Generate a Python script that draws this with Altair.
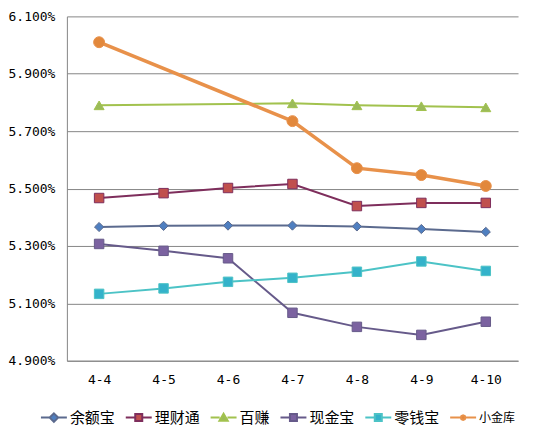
import altair as alt
import pandas as pd

dates = ["4-4", "4-5", "4-6", "4-7", "4-8", "4-9", "4-10"]
series = ["余额宝", "理财通", "百赚", "现金宝", "零钱宝", "小金库"]

yuebao = [5.366, 5.370, 5.371, 5.371, 5.368, 5.359, 5.349]
licaitong = [5.467, 5.484, 5.502, 5.516, 5.439, 5.450, 5.450]
baizhuan = [5.790, None, None, 5.797, 5.790, 5.787, 5.783]
xianjinbao = [5.307, 5.283, 5.257, 5.067, 5.018, 4.990, 5.036]
lingqianbao = [5.133, 5.152, 5.175, 5.189, 5.210, 5.246, 5.213]
xiaojinku = [6.010, None, None, 5.735, 5.571, 5.547, 5.509]

y_ticks = [4.9, 5.1, 5.3, 5.5, 5.7, 5.9, 6.1]

line_colors = ["#5B6A8E", "#7E2E5C", "#A2C24E", "#665A8A", "#4CC3C6", "#E8914A"]
marker_colors = ["#4F7FC0", "#C0504D", "#9BBB59", "#7B62A0", "#34B2CA", "#E2883C"]
legend_paths = [
    "M-1,0H-0.33M0.33,0H1M0,-0.33L0.33,0L0,0.33L-0.33,0Z",
    "M-1,0H-0.27M0.27,0H1M-0.27,-0.27H0.27V0.27H-0.27Z",
    "M-1,0H-0.3M0.3,0H1M0,-0.3L0.32,0.25H-0.32Z",
    "M-1,0H-0.27M0.27,0H1M-0.27,-0.27H0.27V0.27H-0.27Z",
    "M-1,0H-0.27M0.27,0H1M-0.27,-0.27H0.27V0.27H-0.27Z",
    "M-1,0H-0.18M0.18,0H1M0.18,0L0.13,0.13L0,0.18L-0.13,0.13L-0.18,0L-0.13,-0.13L0,-0.18L0.13,-0.13Z",
]
marker_groups = [
    ("diamond", ["余额宝"], 85),
    ("square", ["理财通", "现金宝", "零钱宝"], 90),
    ("triangle-up", ["百赚"], 100),
    ("circle", ["小金库"], 120),
]
thick_series = ["小金库"]

rows = []
for name, vals in zip(series, [yuebao, licaitong, baizhuan, xianjinbao, lingqianbao, xiaojinku]):
    for i, (d, v) in enumerate(zip(dates, vals)):
        if v is not None:
            rows.append({"date": d, "idx": i, "series": name, "rate": v})
df = pd.DataFrame(rows)

legend = alt.Legend(
    orient="none", legendX=-27, legendY=388, direction="horizontal", title=None,
    symbolSize=676, symbolStrokeWidth=2, labelFont="Noto Sans CJK SC",
    labelFontSize=alt.ExprRef("datum.value == '小金库' ? 12 : 15"),
    labelColor="#000000", labelOffset=2, columnPadding=6, gridAlign="none",
    padding=0, symbolOpacity=1,
)

stroke_scale = alt.Scale(domain=series, range=line_colors)
fill_scale = alt.Scale(domain=series, range=marker_colors)

x = alt.X(
    "date:N", sort=dates, scale=alt.Scale(type="point", padding=0.5),
    axis=alt.Axis(title=None, labelAngle=0, ticks=False, grid=False,
                  domainColor="#868686", labelFont="DejaVu Sans Mono",
                  labelFontSize=13, labelColor="#000000", labelPadding=13),
)
y = alt.Y(
    "rate:Q", scale=alt.Scale(domain=[4.9, 6.1], nice=False, zero=False),
    axis=alt.Axis(title=None, values=y_ticks, labelExpr="format(datum.value, '.3f') + '%'",
                  grid=True, gridColor="#868686", gridWidth=1, ticks=False,
                  domainColor="#868686", labelFont="DejaVu Sans Mono",
                  labelFontSize=13, labelColor="#000000", labelPadding=12),
)

base = alt.Chart(df)

thin_lines = base.transform_filter(
    alt.FieldOneOfPredicate(field="series", oneOf=[s for s in series if s not in thick_series])
).mark_line(strokeWidth=2).encode(
    x=x, y=y,
    stroke=alt.Stroke("series:N", scale=stroke_scale, legend=legend),
    order=alt.Order("idx:Q"),
)
thick_lines = base.transform_filter(
    alt.FieldOneOfPredicate(field="series", oneOf=thick_series)
).mark_line(strokeWidth=3.5).encode(
    x=x, y=y,
    stroke=alt.Stroke("series:N", scale=stroke_scale, legend=legend),
    order=alt.Order("idx:Q"),
)

layers = [thin_lines, thick_lines]
for shape, names, size in marker_groups:
    layers.append(
        base.transform_filter(alt.FieldOneOfPredicate(field="series", oneOf=names))
        .mark_point(filled=True, opacity=1, shape=shape, size=size, strokeWidth=1)
        .encode(
            x=x, y=y,
            fill=alt.Fill("series:N", scale=fill_scale, legend=legend),
            stroke=alt.Stroke("series:N", scale=stroke_scale, legend=legend),
        )
    )

legend_layer = base.transform_filter("false").mark_point(filled=True, opacity=1).encode(
    x=x, y=y,
    shape=alt.Shape("series:N", scale=alt.Scale(domain=series, range=legend_paths), legend=legend),
    fill=alt.Fill("series:N", scale=fill_scale, legend=legend),
    stroke=alt.Stroke("series:N", scale=stroke_scale, legend=legend),
)
layers.append(legend_layer)

chart = alt.layer(*layers).properties(
    width=452, height=345,
    autosize=alt.AutoSizeParams(type="none"),
    padding={"left": 59, "top": 8, "right": 10, "bottom": 70},
    background="white",
).configure_view(stroke=None)

chart.save("out.html", embed_options={"renderer": "svg", "actions": False})
